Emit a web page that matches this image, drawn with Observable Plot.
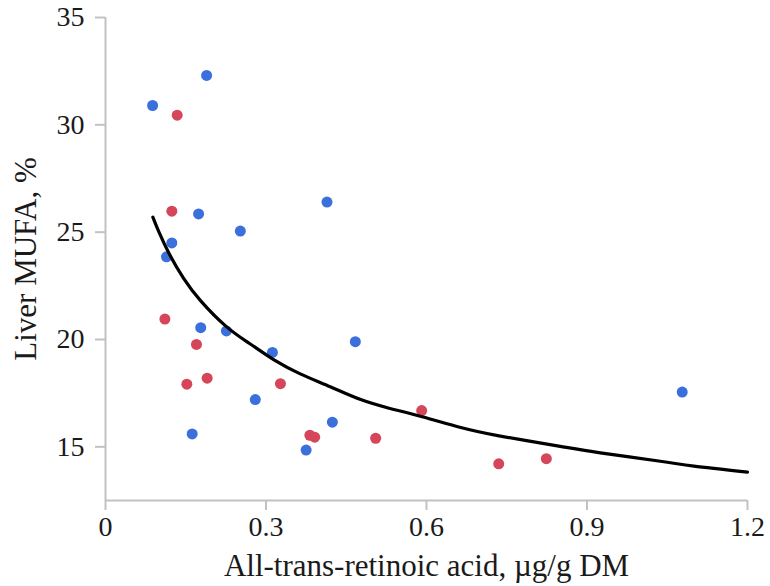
<!DOCTYPE html>
<html>
<head>
<meta charset="utf-8">
<script src="https://cdn.jsdelivr.net/npm/d3@7"></script>
<script src="https://cdn.jsdelivr.net/npm/@observablehq/plot@0.6"></script>
<style>
  html, body { margin: 0; padding: 0; background: #fff; }
  #chart { width: 770px; height: 586px; }
</style>
</head>
<body>
<div id="chart"></div>
<script>
// Blue group
const blueX = [0.088, 0.189, 0.174, 0.252, 0.124, 0.114, 0.414, 0.467, 0.178, 0.226, 0.312, 0.280, 0.162, 0.424, 0.375, 1.078];
const blueY = [30.9, 32.3, 25.85, 25.05, 24.5, 23.85, 26.4, 19.9, 20.55, 20.4, 19.4, 17.2, 15.6, 16.15, 14.85, 17.55];
// Red group
const redX = [0.134, 0.124, 0.111, 0.170, 0.190, 0.152, 0.327, 0.382, 0.391, 0.505, 0.591, 0.735, 0.824];
const redY = [30.45, 25.98, 20.95, 19.77, 18.2, 17.92, 17.94, 15.54, 15.45, 15.4, 16.69, 14.21, 14.45];
// Fitted trend curve
const curveX = [0.0885, 0.1, 0.12, 0.146, 0.178, 0.226, 0.27, 0.315, 0.364, 0.42, 0.477, 0.53, 0.592, 0.664, 0.738, 0.85, 0.925, 1.037, 1.1, 1.2];
const curveY = [25.7, 25.0, 23.95, 22.85, 21.8, 20.6, 19.8, 19.05, 18.4, 17.8, 17.2, 16.8, 16.4, 15.9, 15.5, 15.02, 14.72, 14.33, 14.1, 13.82];

const xTicks = [0, 0.3, 0.6, 0.9, 1.2];
const xTickLabels = ["0", "0.3", "0.6", "0.9", "1.2"];
const yTicks = [15, 20, 25, 30, 35];
const xTitle = "All-trans-retinoic acid, µg/g DM";
const yTitle = "Liver MUFA, %";

const blue = blueX.map((x, i) => ({x, y: blueY[i], g: "blue"}));
const red = redX.map((x, i) => ({x, y: redY[i], g: "red"}));
const curve = curveX.map((x, i) => ({x, y: curveY[i]}));

const axisColor = "#c2c2c2";
const font = "Liberation Serif, Times New Roman, serif";

const chart = Plot.plot({
  width: 770,
  height: 586,
  marginLeft: 105,
  marginRight: 23,
  marginTop: 17,
  marginBottom: 86,
  style: {fontFamily: font, background: "#fff", color: "#1a1a1a"},
  x: {domain: [0, 1.2]},
  y: {domain: [12.5, 35]},
  marks: [
    Plot.ruleY([12.5], {stroke: axisColor, strokeWidth: 2}),
    Plot.ruleX([0], {y1: 12.5, y2: 35, stroke: axisColor, strokeWidth: 2}),
    Plot.axisX({ticks: xTicks, tickFormat: (d, i) => xTickLabels[i], tickSize: 10, tickPadding: 6, stroke: axisColor, strokeWidth: 2, fontSize: 28, label: null, color: "#1a1a1a"}),
    Plot.axisY({ticks: yTicks, tickSize: 10, tickPadding: 11, stroke: axisColor, strokeWidth: 2, fontSize: 28, label: null, color: "#1a1a1a"}),
    Plot.dot(red, {x: "x", y: "y", r: 5.5, fill: "#d5465a", stroke: "none"}),
    Plot.dot(blue, {x: "x", y: "y", r: 5.5, fill: "#3b6fdc", stroke: "none"}),
    Plot.line(curve, {x: "x", y: "y", stroke: "#000", strokeWidth: 3.2, curve: "natural"}),
    Plot.text([xTitle], {frameAnchor: "bottom", textAnchor: "middle", lineAnchor: "middle", dy: 66, fontSize: 31, fill: "#1a1a1a"}),
    Plot.text([yTitle], {frameAnchor: "left", textAnchor: "middle", lineAnchor: "middle", dx: -79, rotate: -90, fontSize: 31, fill: "#1a1a1a"})
  ]
});
document.getElementById("chart").appendChild(chart);
</script>
</body>
</html>
